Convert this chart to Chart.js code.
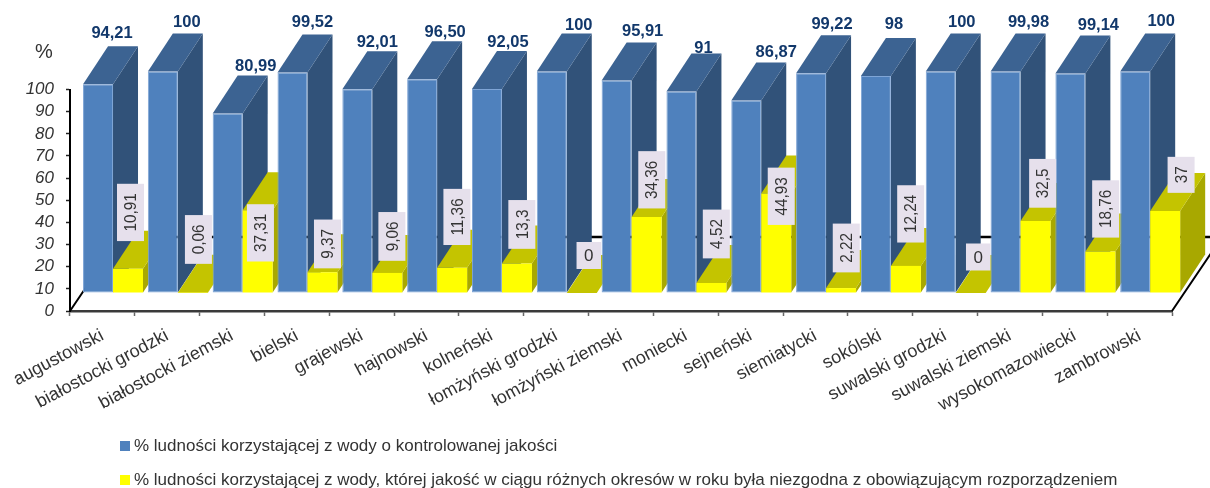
<!DOCTYPE html>
<html lang="pl">
<head>
<meta charset="utf-8">
<title>Jakość wody</title>
<style>html,body{margin:0;padding:0;background:#fff}canvas{display:block}</style>
<script src="https://cdn.jsdelivr.net/npm/chart.js@4/dist/chart.umd.js"></script>
</head>
<body>
<canvas id="c" width="1210" height="488"></canvas>
<script>
const categories = ["augustowski","białostocki grodzki","białostocki ziemski","bielski","grajewski","hajnowski","kolneński","łomżyński grodzki","łomżyński ziemski","moniecki","sejneński","siemiatycki","sokólski","suwalski grodzki","suwalski ziemski","wysokomazowiecki","zambrowski"];
const controlledValues = [94.21,100,80.99,99.52,92.01,96.50,92.05,100,95.91,91,86.87,99.22,98,100,99.98,99.14,100];
const controlledLabels = ["94,21","100","80,99","99,52","92,01","96,50","92,05","100","95,91","91","86,87","99,22","98","100","99,98","99,14","100"];
const nonCompliantValues = [10.91,0.06,37.31,9.37,9.06,11.36,13.3,0,34.36,4.52,44.93,2.22,12.24,0,32.5,18.76,37];
const nonCompliantLabels = ["10,91","0,06","37,31","9,37","9,06","11,36","13,3","0","34,36","4,52","44,93","2,22","12,24","0","32,5","18,76","37"];
const seriesNames = ["% ludności korzystającej z wody o kontrolowanej jakości","% ludności korzystającej z wody, której jakość w ciągu różnych okresów w roku była niezgodna z obowiązującym rozporządzeniem"];

// hand-placed label offsets (px), relative to the bar they annotate
const blueNudgeX = [-11,-1,3,-5,-5,-2,-4,2,1,-3,5,-4,-7,-4,-2,3,1];
const blueNudgeY = [-13,-11,-9,-12,-9,-9,-9,-8,-11,-5,-10,-11,-13,-11,-11,-10,-12];
const yellowNudgeX = [2.5,5.6,2.8,5,4.6,4.8,4.9,7,5.2,4.9,5,5.2,4.8,7.5,7.1,5.3,15.9];
const yellowNudgeY = [-56.4,-53.4,22.5,-28.3,-36.5,-50.9,-39.1,-37.5,-37.1,-49,2.8,-40.1,-52,-36,-37.7,-42.5,-36.2];

// projection of the 3D look
const SHIFT_X = 10.6, SHIFT_Y = -18;   // front plane of the bars relative to the axes
const DEPTH_X = 25, DEPTH_Y = -38;     // depth of a bar
const WALL_X = 50, WALL_Y = -74;       // back edge of the floor

const BLUE = {front:'#4F81BD', top:'#3C6392', side:'#315279', edge:'#7FA5D6'};
const YELLOW = {front:'#FFFF00', top:'#C4C400', side:'#A8A800'};

function poly(ctx, pts, fill){
  ctx.beginPath();
  pts.forEach((p,i)=> i ? ctx.lineTo(p[0],p[1]) : ctx.moveTo(p[0],p[1]));
  ctx.closePath();
  ctx.fillStyle = fill;
  ctx.fill();
}
function faces(ctx, el, col){
  const l = el.x - el.width/2, r = el.x + el.width/2, t = el.y, b = el.base;
  poly(ctx, [[r,t],[r+DEPTH_X,t+DEPTH_Y],[r+DEPTH_X,b+DEPTH_Y],[r,b]], col.side);
  poly(ctx, [[l,t],[r,t],[r+DEPTH_X,t+DEPTH_Y],[l+DEPTH_X,t+DEPTH_Y]], col.top);
}

const bars3d = {
  id:'bars3d',
  afterLayout(chart){
    // legend block starts at the same left edge as in the source figure
    const lg = chart.legend;
    lg.left = 107.5;
    lg.top = 420.5;
    lg.bottom = 488;
    lg.height = 67.5;
  },
  beforeDatasetsDraw(chart){
    const ctx = chart.ctx, a = chart.chartArea;
    ctx.save();
    ctx.strokeStyle = '#000';
    ctx.lineWidth = 2.5;
    ctx.beginPath();
    ctx.moveTo(a.left + WALL_X, a.bottom + WALL_Y);
    ctx.lineTo(a.right + WALL_X, a.bottom + WALL_Y);
    ctx.stroke();
    ctx.lineWidth = 2;
    ctx.beginPath();
    ctx.moveTo(a.left, a.bottom);
    ctx.lineTo(a.left + WALL_X, a.bottom + WALL_Y);
    ctx.moveTo(a.right, a.bottom);
    ctx.lineTo(a.right + WALL_X, a.bottom + WALL_Y);
    ctx.stroke();
    ctx.translate(SHIFT_X, SHIFT_Y);
    const m0 = chart.getDatasetMeta(0).data, m1 = chart.getDatasetMeta(1).data;
    categories.forEach((_,i)=>{
      faces(ctx, m0[i], BLUE);  m0[i].draw(ctx);
      faces(ctx, m1[i], YELLOW); m1[i].draw(ctx);
    });
    ctx.restore();
    return false;
  },
  afterDraw(chart){
    const ctx = chart.ctx;
    const m0 = chart.getDatasetMeta(0).data, m1 = chart.getDatasetMeta(1).data;
    ctx.save();
    ctx.textAlign = 'center';
    ctx.textBaseline = 'middle';
    // unit sign above the value axis
    ctx.fillStyle = '#333';
    ctx.font = '20px "Liberation Sans"';
    ctx.fillText('%', 44, 52);
    // upper series labels
    ctx.fillStyle = '#12386B';
    ctx.font = 'bold 16.5px "Liberation Sans"';
    categories.forEach((_,i)=>{
      const el = m0[i];
      ctx.fillText(controlledLabels[i], el.x + SHIFT_X + DEPTH_X + blueNudgeX[i], el.y + SHIFT_Y + DEPTH_Y + blueNudgeY[i]);
    });
    // lower series labels
    ctx.font = '17px "Liberation Sans"';
    categories.forEach((_,i)=>{
      const el = m1[i], txt = nonCompliantLabels[i];
      const cx = el.x + SHIFT_X + yellowNudgeX[i], cy = el.y + SHIFT_Y + yellowNudgeY[i];
      const upright = nonCompliantValues[i] === 0;
      const squeeze = upright ? 1 : 0.9;
      const len = ctx.measureText(txt).width * squeeze + (upright ? 15 : 19);
      ctx.save();
      ctx.translate(cx, cy);
      if (!upright) ctx.rotate(-Math.PI/2);
      ctx.fillStyle = '#E6E0EC';
      ctx.fillRect(-len/2, -13.5, len, 27);
      ctx.fillStyle = '#333';
      ctx.scale(squeeze, 1);
      ctx.fillText(txt, 0, 1);
      ctx.restore();
    });
    ctx.restore();
  }
};

new Chart(document.getElementById('c'), {
  type:'bar',
  data:{
    labels:categories,
    datasets:[
      {label:seriesNames[0], data:controlledValues, backgroundColor:BLUE.front, borderColor:BLUE.edge, borderWidth:1, borderSkipped:false},
      {label:seriesNames[1], data:nonCompliantValues, backgroundColor:YELLOW.front, borderWidth:0}
    ]
  },
  plugins:[bars3d],
  options:{
    responsive:false,
    animation:false,
    devicePixelRatio:1,
    datasets:{bar:{categoryPercentage:0.925, barPercentage:1}},
    layout:{autoPadding:false, padding:{left:0, top:89.5, right:38, bottom:0}},
    plugins:{
      title:{display:false},
      tooltip:{enabled:false},
      legend:{
        position:'bottom',
        align:'start',
        maxHeight:20,
        labels:{
          boxWidth:1, boxHeight:1, padding:17,
          color:'#333',
          font:{family:'"Liberation Sans"', size:17},
          generateLabels(chart){
            return chart.data.datasets.map((d,i)=>({
              text:d.label, fillStyle:d.backgroundColor, strokeStyle:d.backgroundColor,
              lineWidth:9, hidden:false, datasetIndex:i, fontColor:'#333'
            }));
          }
        }
      }
    },
    scales:{
      x:{
        grid:{drawOnChartArea:false, drawTicks:true, tickLength:5, tickColor:'#666', tickWidth:1.5},
        border:{color:'#3a3a3a', width:2.5},
        afterFit(s){ s.height = 157; },
        ticks:{
          autoSkip:false, minRotation:28, maxRotation:28, padding:9, color:'#333',
          font:{family:'"Liberation Sans"', size:18}
        }
      },
      y:{
        min:0, max:100,
        grid:{drawOnChartArea:false, drawTicks:true, tickLength:4, tickColor:'#222', tickWidth:1.5},
        border:{color:'#000', width:2},
        afterFit(s){ s.width = 70; },
        ticks:{
          stepSize:10, autoSkip:false, padding:12, color:'#333',
          font:{family:'"Liberation Sans"', size:17, style:'italic'}
        }
      }
    }
  }
});
</script>
</body>
</html>
